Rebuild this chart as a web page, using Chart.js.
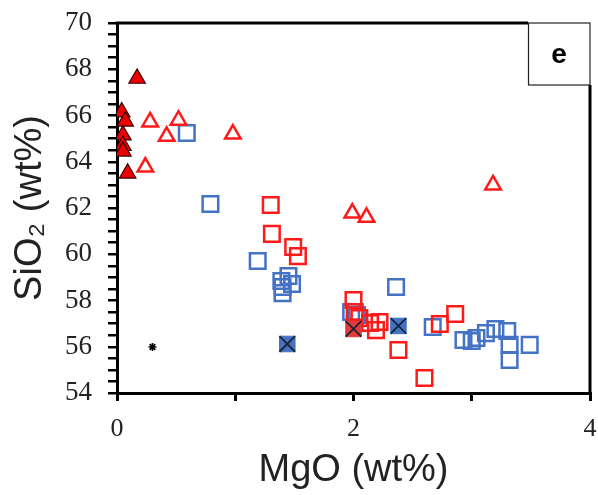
<!DOCTYPE html>
<html><head><meta charset="utf-8">
<script src="https://cdn.jsdelivr.net/npm/chart.js@4/dist/chart.umd.min.js"></script>
<style>html,body{margin:0;padding:0;background:#fff}#wrap{width:598px;height:495px}</style>
</head><body><div id="wrap"><canvas id="c" width="598" height="495"></canvas></div>
<script>
// ---- data (MgO wt%, SiO2 wt%) ----
const filledTriMgO  = [0.17, 0.04, 0.07, 0.05, 0.05, 0.05, 0.09];
const filledTriSiO2 = [67.6, 66.15, 65.75, 65.15, 64.7, 64.45, 63.5];
const openTriMgO  = [0.28, 0.52, 0.42, 0.98, 0.24, 1.99, 2.11, 3.18];
const openTriSiO2 = [65.72, 65.8, 65.1, 65.2, 63.77, 61.78, 61.6, 63.0];
const redSqMgO  = [1.30, 1.31, 1.49, 1.53, 2.00, 2.01, 2.05, 2.14, 2.22, 2.19, 2.38, 2.60, 2.73, 2.86];
const redSqSiO2 = [62.13, 60.88, 60.31, 59.92, 58.02, 57.5, 57.24, 57.03, 57.07, 56.72, 55.86, 54.65, 56.98, 57.42];
const blueSqMgO  = [0.59, 0.79, 1.19, 1.39, 1.45, 1.48, 1.40, 1.40, 2.36, 1.98, 2.03, 2.67, 2.93, 3.00, 3.04, 3.12, 3.20, 3.30, 3.32, 3.32, 3.49];
const blueSqSiO2 = [65.24, 62.17, 59.71, 58.84, 59.06, 58.71, 58.58, 58.32, 58.58, 57.5, 57.37, 56.85, 56.29, 56.25, 56.38, 56.59, 56.77, 56.68, 56.08, 55.43, 56.08];
const blueXMgO  = [1.44, 2.38];
const blueXSiO2 = [56.12, 56.90];
const redXMgO  = [2.00];
const redXSiO2 = [56.77];
const starMgO  = [0.30];
const starSiO2 = [55.99];
const xTickLabels = ['0', '2', '4'];
const yTickLabels = ['54', '56', '58', '60', '62', '64', '66', '68', '70'];
const panelLabel = 'e';

const pts = (xs, ys) => xs.map((x, i) => ({x: x, y: ys[i]}));

const RED = '#ff1a1a', BLUE = '#4472c4';

const datasets = [
  {data: pts(blueSqMgO, blueSqSiO2), pointStyle: 'rect', pointRadius: 11, borderColor: BLUE, backgroundColor: 'rgba(0,0,0,0)', borderWidth: 2.5, order: 6},
  {data: pts(redSqMgO, redSqSiO2), pointStyle: 'rect', pointRadius: 11, borderColor: RED, backgroundColor: 'rgba(0,0,0,0)', borderWidth: 2.5, order: 5},
  {data: pts(openTriMgO, openTriSiO2), pointStyle: 'triangle', pointRadius: 9, borderColor: RED, backgroundColor: 'rgba(0,0,0,0)', borderWidth: 2.5, order: 4},
  {data: pts(filledTriMgO, filledTriSiO2), pointStyle: 'triangle', pointRadius: 9.5, borderColor: '#3a0000', backgroundColor: '#ee0000', borderWidth: 1.2, order: 3},
  {data: pts(blueXMgO, blueXSiO2), pointStyle: 'rect', pointRadius: 11, borderColor: BLUE, backgroundColor: BLUE, borderWidth: 1, order: 2},
  {data: pts(redXMgO, redXSiO2), pointStyle: 'rect', pointRadius: 11, borderColor: '#e23a3a', backgroundColor: '#e23a3a', borderWidth: 1, order: 2},
  {data: pts(blueXMgO.concat(redXMgO), blueXSiO2.concat(redXSiO2)), pointStyle: 'crossRot', pointRadius: 11, borderColor: '#1b2436', backgroundColor: '#1b2436', borderWidth: 1.8, order: 1},
  {data: pts(starMgO, starSiO2), pointStyle: 'star', pointRadius: 4, borderColor: '#000', backgroundColor: '#000', borderWidth: 1.6, order: 0}
];

const framePlugin = {
  id: 'frame',
  afterDraw(chart) {
    const {ctx, chartArea: a} = chart;
    const boxL = 528, boxB = 85;
    ctx.save();
    ctx.strokeStyle = '#000';
    ctx.lineWidth = 3;
    ctx.beginPath();
    ctx.moveTo(a.left - 1.5, a.top);
    ctx.lineTo(boxL, a.top);
    ctx.moveTo(a.right, boxB);
    ctx.lineTo(a.right, a.bottom + 1.5);
    ctx.stroke();
    ctx.lineWidth = 1.2;
    ctx.strokeStyle = '#222';
    ctx.strokeRect(boxL + 0.5, a.top, a.right - boxL - 0.5, boxB - a.top);
    ctx.fillStyle = '#000';
    ctx.font = 'bold 28px "Liberation Sans", Arial, sans-serif';
    ctx.textAlign = 'center';
    ctx.textBaseline = 'middle';
    ctx.fillText(panelLabel, (boxL + a.right) / 2, (a.top + boxB) / 2 + 1);
    ctx.restore();
  }
};

new Chart(document.getElementById('c'), {
  type: 'scatter',
  data: {datasets: datasets},
  plugins: [framePlugin],
  options: {
    responsive: false,
    animation: false,
    layout: {autoPadding: false, padding: {left: 0, right: 8, top: 23, bottom: 0}},
    plugins: {legend: {display: false}, tooltip: {enabled: false}},
    scales: {
      x: {
        type: 'linear', min: 0, max: 4,
        afterFit(s) { s.height = 102; s.paddingRight = 0; s.paddingLeft = 0; },
        border: {display: true, color: '#000', width: 3},
        grid: {display: true, drawOnChartArea: false, drawTicks: true, tickLength: 8, color: '#000', lineWidth: 3},
        ticks: {
          stepSize: 1, padding: 0, color: '#222',
          font: {family: '"Liberation Serif", "Times New Roman", serif', size: 26, lineHeight: 2.2},
          callback: (v) => { const i = xTickLabels.indexOf(String(v)); return i >= 0 ? xTickLabels[i] : ''; }
        },
        title: {display: true, text: 'MgO (wt%)', color: '#222', padding: {top: 0, bottom: 2},
          font: {family: '"Liberation Sans", Arial, sans-serif', size: 38}}
      },
      y: {
        type: 'linear', min: 54, max: 70,
        afterFit(s) { s.width = 117; s.paddingTop = 0; s.paddingBottom = 0; },
        border: {display: true, color: '#000', width: 3},
        grid: {display: true, drawOnChartArea: false, drawTicks: true, tickLength: 9, color: '#000', lineWidth: 2.5},
        ticks: {
          stepSize: 0.5, padding: 16, color: '#222', autoSkip: false,
          font: {family: '"Liberation Serif", "Times New Roman", serif', size: 27},
          callback: (v) => { const i = yTickLabels.indexOf(String(v)); return i >= 0 ? yTickLabels[i] : ''; }
        },
        title: {display: true, text: 'SiO₂ (wt%)', color: '#222', padding: {top: 8, bottom: 0},
          font: {family: '"Liberation Sans", Arial, sans-serif', size: 38}}
      }
    }
  }
});
</script>
</body></html>
